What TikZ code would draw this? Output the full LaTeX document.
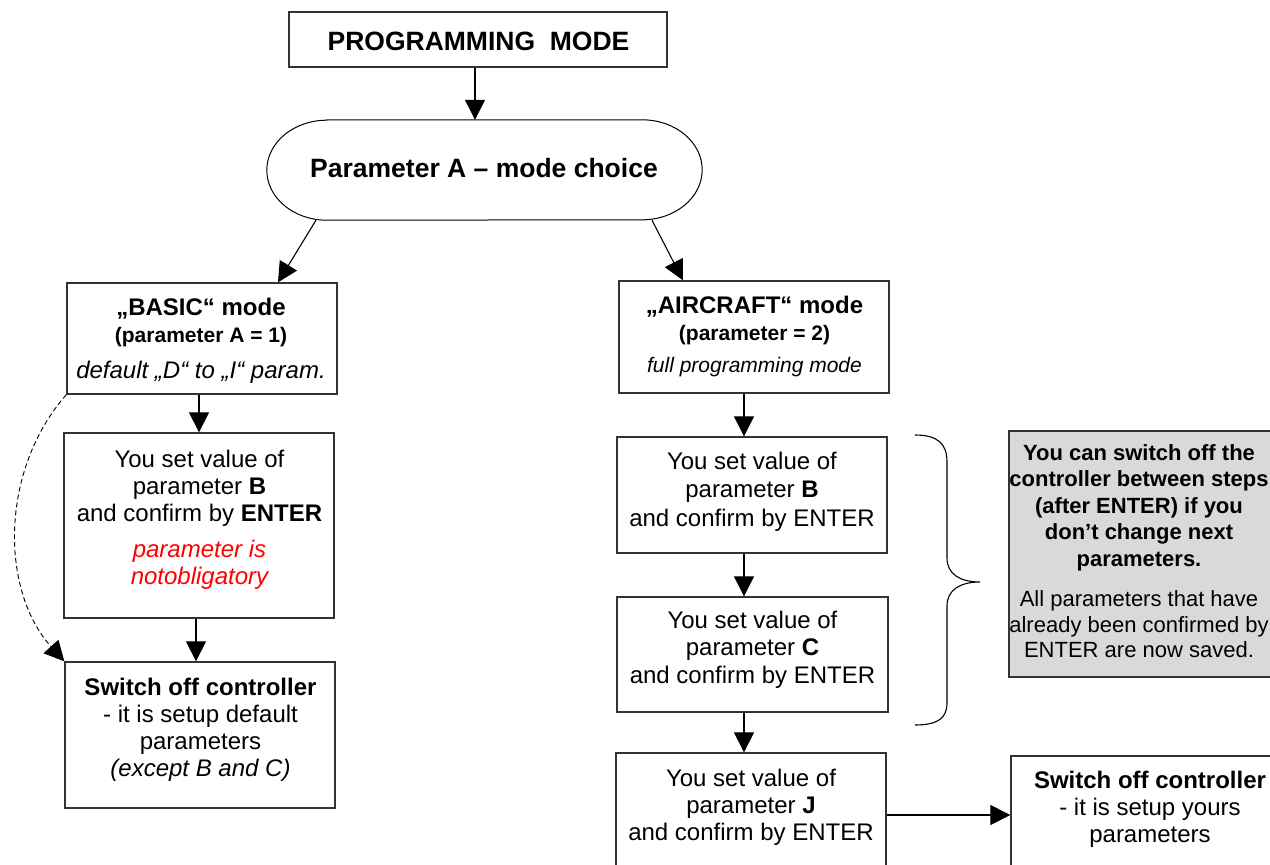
\documentclass[tikz,border=0pt]{standalone}
\usepackage{fontspec}
\setmainfont{Liberation Sans}
\usetikzlibrary{arrows.meta}
% fixed-size strut so multi-line nodes have a predictable height
\newcommand\tstrut{\rule[-8.1pt]{0pt}{27pt}}

\begin{document}
\begin{tikzpicture}[x=1pt,y=-1pt,
  box/.style={draw=black!80, line width=1.3pt, fill=white, inner sep=0pt, minimum width=270pt},
  txt/.style={inner sep=0pt, align=center, font=\fontsize{24}{27}\selectfont},
  big/.style={inner sep=0pt, anchor=base, font=\fontsize{26.5}{30}\selectfont\bfseries},
  arr/.style={-{Triangle[length=20pt,width=20pt]}, line width=1.1pt},
]
\useasboundingbox (0,0) rectangle (1270,865);
\clip (0,0) rectangle (1270,865);

% title
\node[box, minimum width=378pt, minimum height=55pt] (prog) at (478,39.5) {};
\node[big] (prog-t) at (478.5,50) {PROGRAMMING\ \ MODE};

% mode choice terminator
\node[minimum width=435pt, minimum height=100pt, inner sep=0pt] (stad) at (484.5,170) {};
\draw[line width=1pt] ([xshift=60pt]stad.north west) -- ([xshift=-60pt]stad.north east)
  arc[start angle=90, end angle=-90, x radius=60pt, y radius=50pt]
  -- ([xshift=60pt]stad.south west)
  arc[start angle=270, end angle=90, x radius=60pt, y radius=50pt] -- cycle;
\node[big] (stad-t) at (484,177) {Parameter A – mode choice};

% BASIC branch
\node[box, minimum height=111pt] (basic) at (202,338.5) {};
\node[txt] (basic-t) at (201,341.1) {\tstrut\textbf{„BASIC“ mode}\\{\fontsize{21}{27}\selectfont\bfseries (parameter A = 1)}\\[9pt]\textit{default „D“ to „I“ param.}\tstrut};

\node[box, minimum height=185pt] (bl) at (199,525.5) {};
\node[txt] (bl-t) at (199.5,520.1) {\tstrut You set value of\\parameter \textbf{B}\\and confirm by \textbf{ENTER}\\[9pt]\textcolor{red}{\itshape parameter is}\\\textcolor{red}{\itshape notobligatory}\tstrut};

\node[box, minimum height=146pt] (swl) at (200,735) {};
\node[txt] (swl-t) at (200.5,730.1) {\tstrut\textbf{Switch off controller}\\- it is setup default\\parameters\\\textit{(except B and C)}\tstrut};

% AIRCRAFT branch
\node[box, minimum height=112pt] (air) at (754,337) {};
\node[txt] (air-t) at (754.5,337.1) {\tstrut\textbf{„AIRCRAFT“ mode}\\{\fontsize{21}{27}\selectfont\bfseries (parameter = 2)}\\[5pt]{\fontsize{21}{27}\selectfont\itshape full programming mode}\tstrut};

\node[box, minimum height=116pt] (br) at (752,495) {};
\node[txt, font=\fontsize{24}{28.5}\selectfont] (br-t) at (752,492.1) {\tstrut You set value of\\parameter \textbf{B}\\and confirm by ENTER\tstrut};

\node[box, minimum width=271pt, minimum height=115pt] (bc) at (752.5,654.5) {};
\node[txt, font=\fontsize{24}{27.5}\selectfont] (bc-t) at (752.5,650.1) {\tstrut You set value of\\parameter \textbf{C}\\and confirm by ENTER\tstrut};

\node[box, minimum height=124pt] (bj) at (751,815) {};
\node[txt] (bj-t) at (751,807.6) {\tstrut You set value of\\parameter \textbf{J}\\and confirm by ENTER\tstrut};

\node[box, minimum width=278pt, minimum height=118pt] (swr) at (1150,815) {};
\node[txt] (swr-t) at (1150,809.6) {\tstrut\textbf{Switch off controller}\\- it is setup yours\\parameters\tstrut};

% note box
\node[box, fill=black!15, minimum width=262pt, minimum height=246pt] (note) at (1140,554) {};
\node[txt, font=\fontsize{22}{26.5}\selectfont] (note-t) at (1139,553.4) {\tstrut\textbf{You can switch off the}\\\textbf{controller between steps}\\\textbf{(after ENTER) if you}\\\textbf{don’t change next}\\\textbf{parameters.}\\[14pt]All parameters that have\\[-1pt]already been confirmed by\\[-1pt]ENTER are now saved.\tstrut};

% brace
\draw[line width=1.1pt] (915,435) .. controls (938,435) and (947,444) .. (947,462) -- (947,558)
  .. controls (947,574) and (960,582) .. (980,582)
  .. controls (960,582) and (947,590) .. (947,606) -- (947,703)
  .. controls (947,718) and (938,725) .. (915,725);

% connectors
\draw[arr] ([xshift=-3pt]prog.south) -- ([xshift=-3pt]prog.south |- stad.north);
\draw[arr] ([xshift=-168.5pt]stad.south) -- ([xshift=76pt]basic.north);
\draw[arr] ([xshift=167.5pt]stad.south) -- ([xshift=-71pt]air.north);
\draw[arr] (basic.south -| bl.north) -- (bl.north);
\draw[arr] ([xshift=-3pt]bl.south) -- ([xshift=-3pt]bl.south |- swl.north);
\draw[arr, dash pattern=on 5pt off 3pt, line width=0.9pt] (basic.south west) .. controls (0,470) and (0,590) .. (swl.north west);
\draw[arr] ([xshift=-8pt]br.north |- air.south) -- ([xshift=-8pt]br.north);
\draw[arr] ([xshift=-8pt]br.south) -- ([xshift=-8pt]br.south |- bc.north);
\draw[arr] ([xshift=-8.5pt]bc.south) -- ([xshift=-8.5pt]bc.south |- bj.north);
\draw[arr] (bj.east) -- (bj.east -| swr.west);
\end{tikzpicture}
\end{document}
